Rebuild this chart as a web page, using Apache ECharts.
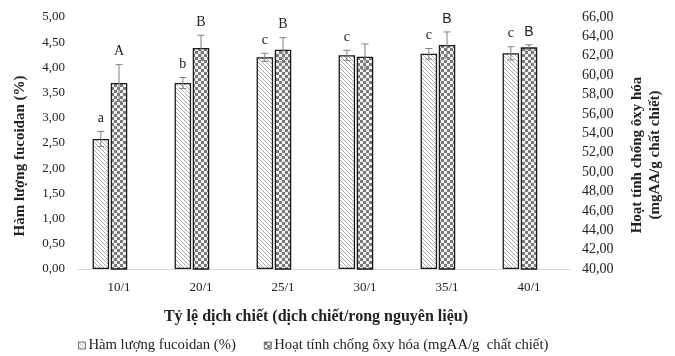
<!DOCTYPE html>
<html>
<head>
<meta charset="utf-8">
<script src="https://cdn.jsdelivr.net/npm/echarts@6/dist/echarts.min.js"></script>
<style>
html,body{margin:0;padding:0;background:#fff;}
#chart{width:675px;height:356px;}
</style>
</head>
<body>
<div id="chart"></div>
<script>
const categories = ['10/1', '20/1', '25/1', '30/1', '35/1', '40/1'];
const fucoidan = [2.58, 3.69, 4.20, 4.24, 4.27, 4.28];
const fucoidanErr = [0.15, 0.11, 0.08, 0.10, 0.105, 0.13];
const fucoidanLetters = ['a', 'b', 'c', 'c', 'c', 'c'];
const antiox = [59.19, 62.81, 62.63, 61.90, 63.12, 62.87];
const antioxErr = [1.89, 1.31, 1.25, 1.32, 1.34, 0.26];
const antioxLetters = ['A', 'B', 'B', '', 'B', 'B'];

const seriesNames = ['Hàm lượng fucoidan (%)', 'Hoạt tính chống ôxy hóa (mgAA/g  chất chiết)'];

const SERIF = '"Liberation Serif", "Times New Roman", serif';
const SANS = '"Liberation Sans", Arial, sans-serif';
const BAR_W = 16.5;
const BAR_GAP = 0.1;

function hatchPattern() {
  const c = document.createElement('canvas');
  c.width = 4; c.height = 4;
  const g = c.getContext('2d');
  g.fillStyle = '#ffffff'; g.fillRect(0, 0, 4, 4);
  g.strokeStyle = '#8c8c8c'; g.lineWidth = 0.7;
  g.beginPath();
  g.moveTo(-1, -1); g.lineTo(5, 5);
  g.moveTo(-1, 3); g.lineTo(1, 5);
  g.moveTo(3, -1); g.lineTo(5, 1);
  g.stroke();
  return c;
}
function checkerPattern() {
  const c = document.createElement('canvas');
  c.width = 6; c.height = 6;
  const g = c.getContext('2d');
  g.fillStyle = '#f2f2f2'; g.fillRect(0, 0, 6, 6);
  g.fillStyle = '#7a7a7a';
  g.fillRect(0, 0, 3, 3); g.fillRect(3, 3, 3, 3);
  return c;
}

function errRenderer(offset, errArr, letters, sansFrom) {
  return function (params, api) {
    const i = params.dataIndex;
    const v = api.value(1);
    const e = errArr[i];
    const x = api.coord([i, v])[0] + offset;
    const yT = api.coord([i, v + e])[1];
    const yB = api.coord([i, v - e])[1];
    const st = { stroke: '#808080', lineWidth: 1 };
    const children = [
      { type: 'line', shape: { x1: x, y1: yT, x2: x, y2: yB }, style: st },
      { type: 'line', shape: { x1: x - 3.5, y1: yT, x2: x + 3.5, y2: yT }, style: st },
      { type: 'line', shape: { x1: x - 3.5, y1: yB, x2: x + 3.5, y2: yB }, style: st }
    ];
    if (letters[i]) {
      children.push({
        type: 'text', x: x, y: yT - 13,
        style: {
          text: letters[i], fontSize: 14,
          fontFamily: (sansFrom !== null && i >= sansFrom) ? SANS : SERIF,
          fill: '#222', align: 'center', verticalAlign: 'middle'
        }
      });
    }
    return { type: 'group', children: children };
  };
}

const chart = echarts.init(document.getElementById('chart'), null, { renderer: 'canvas' });
const fmt = v => v.toFixed(2).replace('.', ',');

chart.setOption({
  animation: false,
  backgroundColor: '#ffffff',
  grid: { left: 78, right: 105, top: 17, bottom: 87 },
  legend: {
    data: seriesNames,
    left: 78, top: 338, padding: 0,
    icon: 'rect', itemWidth: 7, itemHeight: 7, itemGap: 28,
    itemStyle: { borderWidth: 0.8, borderColor: '#555' },
    textStyle: { fontFamily: SERIF, fontSize: 14.7, color: '#222', padding: [0, 0, 0, -2] }
  },
  xAxis: {
    type: 'category', data: categories,
    axisLine: { lineStyle: { color: '#d9d9d9', width: 1 } },
    axisTick: { show: false },
    axisLabel: { fontFamily: SERIF, fontSize: 13, color: '#222', margin: 12 }
  },
  yAxis: [
    {
      type: 'value', min: 0, max: 5, interval: 0.5,
      axisLine: { show: false }, axisTick: { show: false }, splitLine: { show: false },
      axisLabel: { fontFamily: SERIF, fontSize: 13, color: '#222', margin: 13, formatter: fmt }
    },
    {
      type: 'value', min: 40, max: 66, interval: 2,
      axisLine: { show: false }, axisTick: { show: false }, splitLine: { show: false },
      axisLabel: { fontFamily: SERIF, fontSize: 14, color: '#222', margin: 12, formatter: fmt }
    }
  ],
  graphic: [
    {
      type: 'text', x: 20, y: 156, rotation: Math.PI / 2,
      style: { text: 'Hàm lượng fucoidan (%)', fontFamily: SERIF, fontSize: 15, fontWeight: 'bold',
        fill: '#222', align: 'center', verticalAlign: 'middle' }
    },
    {
      type: 'text', x: 646, y: 155, rotation: Math.PI / 2,
      style: { text: 'Hoạt tính chống ôxy hóa\n(mgAA/g chất chiết)', fontFamily: SERIF, fontSize: 15,
        fontWeight: 'bold', lineHeight: 18, fill: '#222', align: 'center', verticalAlign: 'middle' }
    },
    {
      type: 'text', x: 316, y: 317,
      style: { text: 'Tỷ lệ dịch chiết (dịch chiết/rong nguyên liệu)', fontFamily: SERIF, fontSize: 16,
        fontWeight: 'bold', fill: '#222', align: 'center', verticalAlign: 'middle' }
    }
  ],
  series: [
    {
      name: seriesNames[0], type: 'bar', yAxisIndex: 0, data: fucoidan,
      barWidth: BAR_W, barGap: (BAR_GAP * 100) + '%',
      itemStyle: { color: { image: hatchPattern(), repeat: 'repeat' }, borderColor: '#1a1a1a', borderWidth: 1.3 }
    },
    {
      name: seriesNames[1], type: 'bar', yAxisIndex: 1, data: antiox,
      barWidth: BAR_W, barGap: (BAR_GAP * 100) + '%',
      itemStyle: { color: { image: checkerPattern(), repeat: 'repeat' }, borderColor: '#1a1a1a', borderWidth: 1.3 }
    },
    {
      name: 'spacer', type: 'bar', yAxisIndex: 0, data: categories.map(() => null),
      barWidth: BAR_W, barGap: (BAR_GAP * 100) + '%', silent: true,
      itemStyle: { color: 'rgba(0,0,0,0)' }
    },
    {
      type: 'custom', yAxisIndex: 0, z: 5, silent: true,
      data: fucoidan.map((v, i) => [i, v]), encode: { x: 0, y: 1 },
      renderItem: errRenderer(-BAR_W * (1 + BAR_GAP), fucoidanErr, fucoidanLetters, null)
    },
    {
      type: 'custom', yAxisIndex: 1, z: 5, silent: true,
      data: antiox.map((v, i) => [i, v]), encode: { x: 0, y: 1 },
      renderItem: errRenderer(0, antioxErr, antioxLetters, 4)
    }
  ]
});
</script>
</body>
</html>
